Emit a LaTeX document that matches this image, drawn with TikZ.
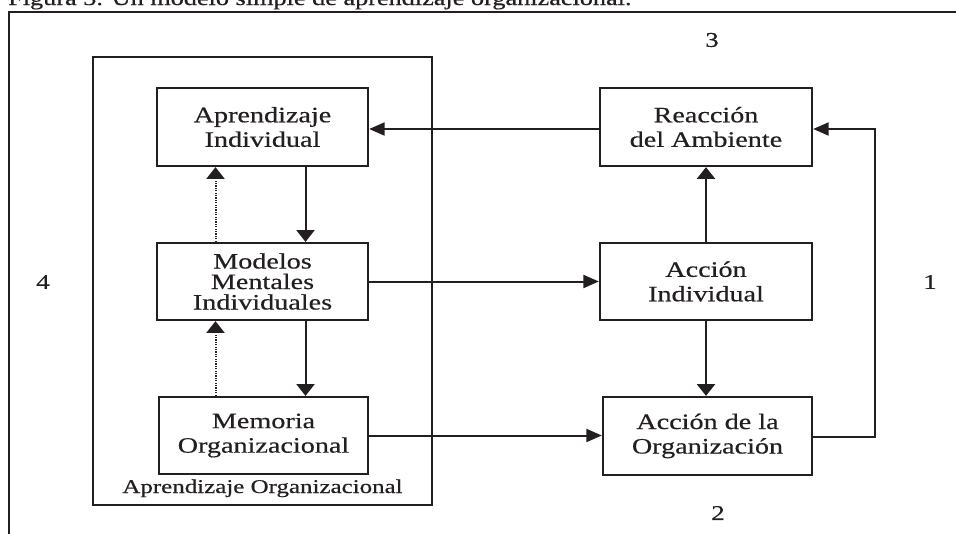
\documentclass[tikz,border=0pt]{standalone}
\usepackage{fontspec}
\setmainfont{Liberation Serif}[FakeStretch=1.28, FakeBold=0.5]
\usetikzlibrary{arrows.meta}
\definecolor{ink}{HTML}{231F20}
\tikzset{
  box/.style={draw=ink, line width=2.3pt, inner sep=0pt, align=center,
    text=ink, font=\fontsize{22}{24.5}\selectfont},
  flow/.style={draw=ink, line width=2pt},
  vtip/.style={flow, -{Triangle[length=11.7pt,width=18pt]}},
  htip/.style={flow, -{Triangle[length=15.5pt,width=13pt]}},
  dotup/.style={draw=ink, line width=2pt, dash pattern=on 1.3pt off 1.1pt,
    -{Triangle[length=11.7pt,width=18pt]}},
  numlabel/.style={text=ink, font=\fontsize{21}{24}\selectfont, inner sep=0pt}
}
\begin{document}
\begin{tikzpicture}[x=1pt, y=-1pt]
\useasboundingbox (0,0) rectangle (956,533);

% caption, cut by the top edge
\node[anchor=base west, inner sep=0pt, text=ink, font=\fontsize{20.5}{24}\selectfont]
  (caption) at (8,5) {Figura 3. Un modelo simple de aprendizaje organizacional.};

% outer frame
\draw[ink, line width=1.5pt] (9,560) -- (9,12) -- (980,12);

% frame of organizational learning
\draw[ink, line width=2pt] (93,57) rectangle (432,505);
\node[anchor=base, text=ink, inner sep=0pt, font=\fontsize{19.5}{22}\selectfont]
  (orglabel) at (262.5,493) {Aprendizaje Organizacional};

% left column
\node[box, minimum width=211pt, minimum height=78pt] (ai) at (262.5,127)
  {Aprendizaje\\Individual};
\node[box, minimum width=211pt, minimum height=77pt,
  font=\fontsize{22}{20.5}\selectfont] (mm) at (262.5,281.5)
  {Modelos\\Mentales\\Individuales};
\node[box, minimum width=209pt, minimum height=77pt] (mo) at (263.5,435.5)
  {Memoria\\Organizacional};

% right column
\node[box, minimum width=212pt, minimum height=78pt] (ra) at (706,127)
  {Reacción\\del Ambiente};
\node[box, minimum width=212pt, minimum height=77pt] (ain) at (706,281.5)
  {Acción\\Individual};
\node[box, minimum width=209pt, minimum height=78pt] (ao) at (707.5,436)
  {Acción de la\\Organización};

% vertical links on the left
\draw[vtip] ([xshift=43pt]ai.south) -- ([xshift=43pt]ai.south |- mm.north);
\draw[vtip] ([xshift=43pt]mm.south) -- ([xshift=43pt]mm.south |- mo.north);
\draw[dotup] ([xshift=-47pt]mm.south |- mo.north) -- ([xshift=-47pt]mm.south);
\draw[dotup] ([xshift=-47pt]mm.north) -- ([xshift=-47pt]mm.north |- ai.south);

% vertical links on the right
\draw[vtip] (ain.north) -- (ra.south);
\draw[vtip] (ain.south) -- ([xshift=-1.5pt]ao.north);

% horizontal links
\draw[htip] ([yshift=-2pt]ra.west) -- ([yshift=-2pt]ra.west -| ai.east);
\draw[htip] (mm.east) -- (mm.east -| ain.west);
\draw[htip] (mo.east) -- (mo.east -| ao.west);

% feedback loop
\coordinate (loop) at (875,0);
\draw[htip] ([yshift=-1pt]ao.east) -- ([yshift=-1pt]ao.east -| loop)
  -- ([yshift=-2pt]ra.east -| loop) -- ([yshift=-2pt]ra.east);

% loop numbers
\node[numlabel] (n3) at (712,40) {3};
\node[numlabel] (n4) at (43,282) {4};
\node[numlabel] (n1) at (930,282) {1};
\node[numlabel] (n2) at (718,513) {2};
\end{tikzpicture}
\end{document}
